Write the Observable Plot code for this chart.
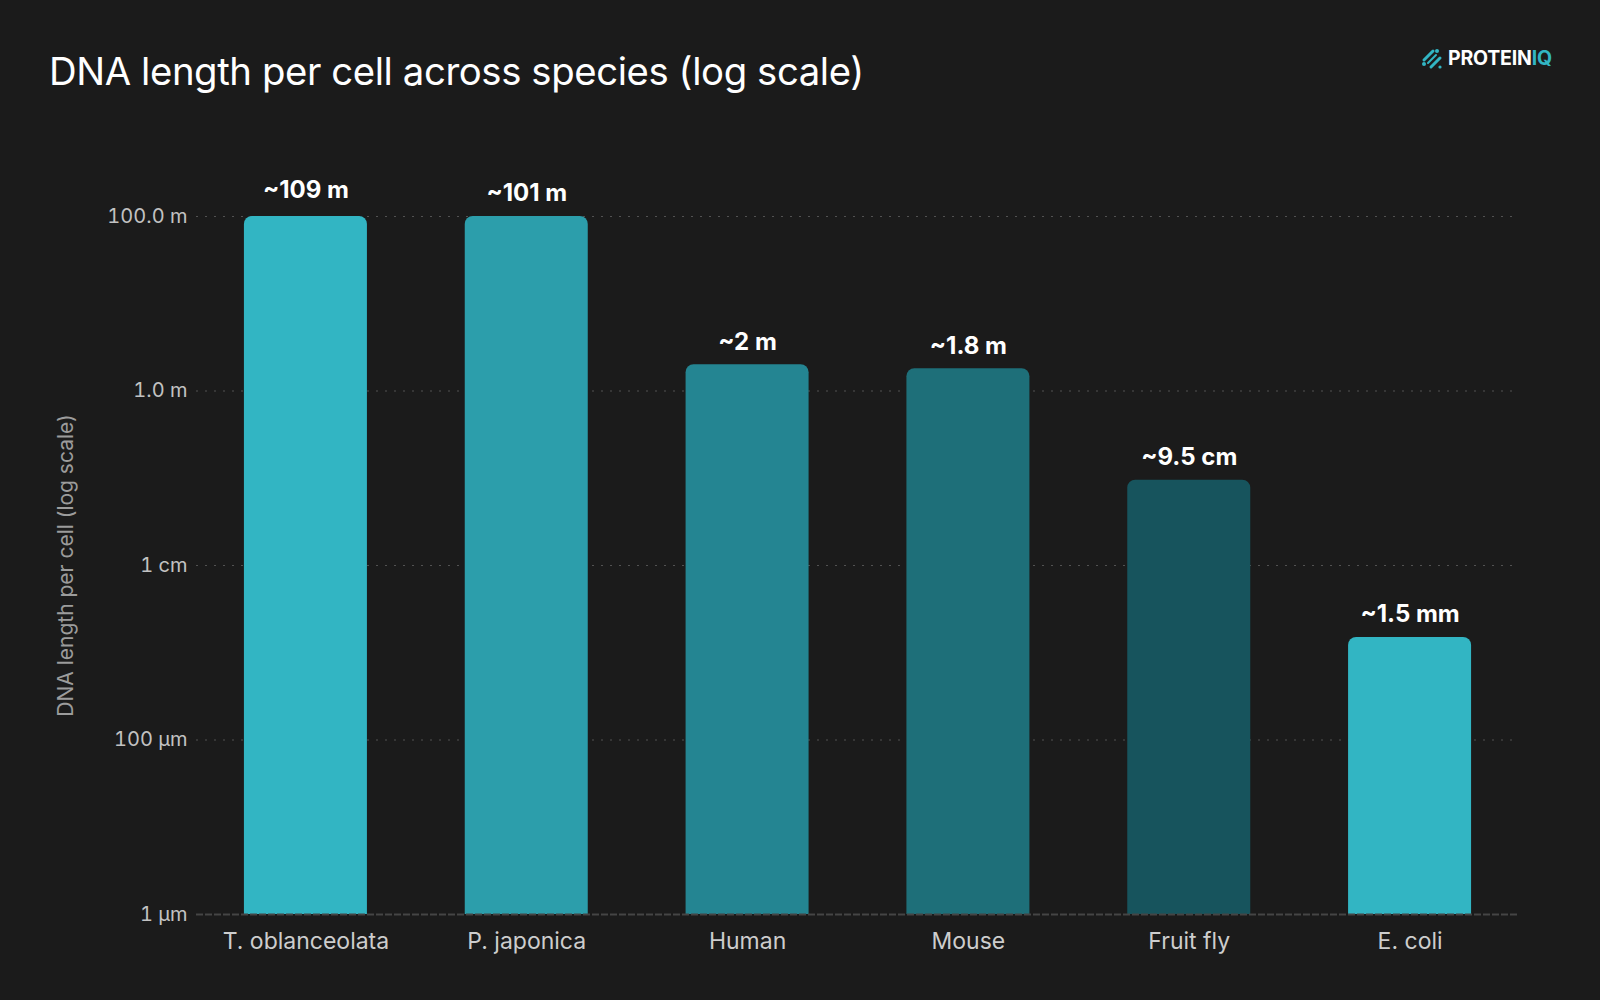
<!DOCTYPE html>
<html>
<head>
<meta charset="utf-8">
<script src="https://cdn.jsdelivr.net/npm/d3@7"></script>
<script src="https://cdn.jsdelivr.net/npm/@observablehq/plot@0.6"></script>
<style>
  html, body { margin: 0; padding: 0; background: #1b1b1b; }
  body { width: 1600px; height: 1000px; overflow: hidden; font-family: Inter, "Noto Sans", sans-serif; }
  #header { position: relative; height: 130px; }
  #title { position: absolute; left: 49px; top: 52px; font-size: 38.3px; font-weight: 400; color: #ffffff; letter-spacing: -0.4px; white-space: nowrap; line-height: 1; }
  #logo { position: absolute; left: 1421px; top: 48px; display: flex; align-items: center; gap: 5px; }
  #logo .word { font-size: 19.5px; font-weight: 700; color: #ffffff; letter-spacing: -0.2px; line-height: 1; }
  #logo .word span { color: #32b5c3; }
  #chart svg { display: block; }
</style>
</head>
<body>
<div id="header">
  <div id="title">DNA length per cell across species (log scale)</div>
  <div id="logo">
    <svg width="22" height="22" viewBox="0 0 22 22">
      <g stroke="#32b5c3" stroke-width="3" stroke-linecap="round" fill="none">
        <line x1="3" y1="12" x2="12" y2="3"/>
        <line x1="10" y1="19" x2="19" y2="10"/>
        <line x1="7" y1="15" x2="15" y2="7" stroke-width="2"/>
      </g>
      <g fill="#32b5c3">
        <circle cx="16" cy="3" r="2"/>
        <circle cx="3" cy="16" r="2"/>
        <circle cx="19" cy="19" r="1.6"/>
      </g>
    </svg>
    <div class="word">PROTEIN<span>IQ</span></div>
  </div>
</div>
<div id="chart"></div>
<script>
const species = ["T. oblanceolata", "P. japonica", "Human", "Mouse", "Fruit fly", "E. coli"];
const lengthsMeters = [109, 101, 2, 1.8, 0.095, 0.0015];
const valueLabels = ["~109 m", "~101 m", "~2 m", "~1.8 m", "~9.5 cm", "~1.5 mm"];
const barColors = ["#32b5c3", "#2c9eab", "#248592", "#1e6f79", "#17545d", "#32b5c3"];
const tickValues = [1e-6, 1e-4, 1e-2, 1, 100];
const tickLabels = ["1 µm", "100 µm", "1 cm", "1.0 m", "100.0 m"];
const yDomain = [1e-6, 100];
const yLabel = "DNA length per cell (log scale)";

const data = species.map((s, i) => ({
  species: s,
  value: lengthsMeters[i],
  label: valueLabels[i],
  color: barColors[i]
}));

const tickFormat = d => tickLabels[tickValues.indexOf(d)] ?? "";

const chart = Plot.plot({
  width: 1600,
  height: 870,
  marginTop: 86,
  marginBottom: 86,
  marginLeft: 196,
  marginRight: 81,
  style: { background: "transparent", color: "#c2c2c2", fontFamily: "Inter, 'Noto Sans', sans-serif" },
  x: { domain: species, paddingInner: 0.443, paddingOuter: 0.217, round: false, label: null },
  y: { type: "log", domain: yDomain, label: null },
  marks: [
    Plot.gridY(tickValues, { stroke: "#6a6a6a", strokeOpacity: 0.7, strokeDasharray: "2 7" }),
    Plot.barY(data, {
      x: "species",
      y1: yDomain[0],
      y2: d => Math.min(d.value, yDomain[1]),
      fill: "color",
      ry1: 8
    }),
    Plot.ruleY([yDomain[0]], { stroke: "#454545", strokeWidth: 2, strokeDasharray: "7 2" }),
    Plot.axisY(tickValues, {
      tickSize: 0, tickPadding: 9, tickFormat, fontSize: 20, fill: "#c2c2c2",
      label: yLabel, labelAnchor: "center", labelArrow: "none", labelOffset: 138
    }),
    Plot.axisX({ tickSize: 0, tickPadding: 18, fontSize: 23, fill: "#cdcdcd", label: null }),
    Plot.text(data, {
      x: "species",
      y: "value",
      text: "label",
      dy: -15,
      lineAnchor: "bottom",
      fill: "#ffffff",
      fontWeight: 700,
      fontSize: 24
    })
  ]
});
// colour the y-axis title a softer grey than the tick labels
chart.querySelectorAll("g[aria-label='y-axis label'] text").forEach(t => { t.setAttribute("fill", "#9c9c9c"); t.style.fontSize = "21px"; });
document.getElementById("chart").appendChild(chart);
</script>
</body>
</html>
